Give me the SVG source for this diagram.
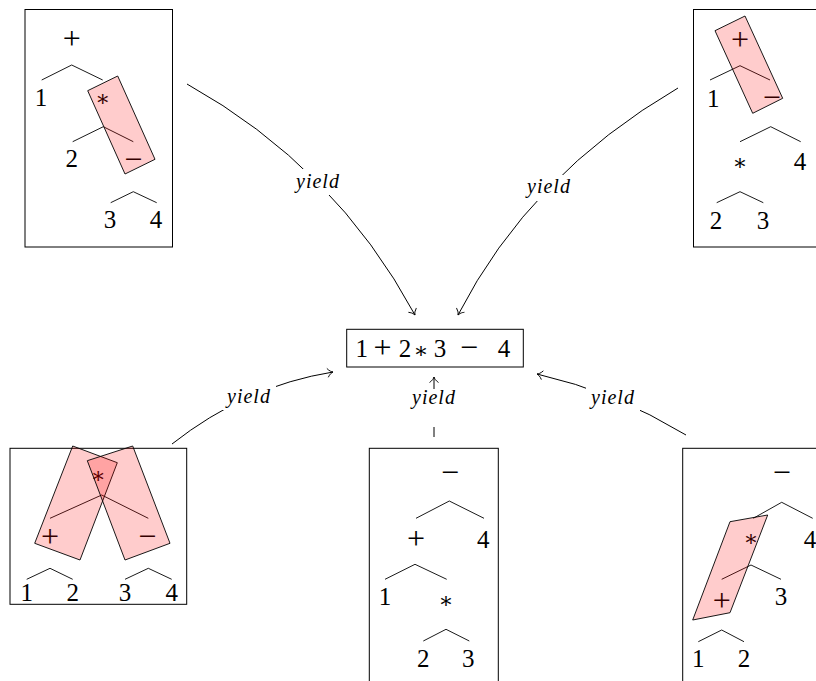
<svg xmlns="http://www.w3.org/2000/svg" width="816" height="681" viewBox="0 0 816 681">
<defs>
<style>
.box{fill:none;stroke:#000;stroke-width:1}
.t{font-family:"Liberation Serif","Times New Roman",serif;font-size:25px;text-anchor:middle;fill:#000}
.op{font-family:"Liberation Serif","Times New Roman",serif;font-size:32px;text-anchor:middle;fill:#000}
.ast{font-family:"DejaVu Serif","Liberation Serif",serif;font-size:22px;text-anchor:middle;fill:#000}
.e{fill:none;stroke:#000;stroke-width:0.9}
.hl{fill:#ff0000;fill-opacity:0.2;stroke:#000;stroke-width:0.9}
.lbl{font-family:"Liberation Serif","Times New Roman",serif;font-style:italic;font-size:20px;text-anchor:middle;fill:#000;letter-spacing:1px}
.bg{fill:#fff;stroke:none}
.c{fill:none;stroke:#000;stroke-width:1}
</style>
<marker id="arr" viewBox="-7 -6 8 12" refX="0" refY="0" markerWidth="8" markerHeight="12" markerUnits="userSpaceOnUse" orient="auto">
<path d="M-5.5,-4.5 C-3.5,-1.5 -1.2,-0.3 0,0 C-1.2,0.3 -3.5,1.5 -5.5,4.5" fill="none" stroke="#000" stroke-width="0.9"/>
</marker>
</defs>
<rect width="816" height="681" fill="#fff"/>

<g id="connectors">
<path class="c" d="M187,84 Q335,166.5 415,315" marker-end="url(#arr)"/>
<path class="c" d="M678,88 Q530,174.5 458,315" marker-end="url(#arr)"/>
<path class="c" d="M172,444 Q245.5,386 333,372" marker-end="url(#arr)"/>
<path class="c" d="M686,435 Q614.5,391.5 537,374" marker-end="url(#arr)"/>
<path class="c" d="M434,437 L434,377" marker-end="url(#arr)"/>
<rect class="bg" x="292" y="169" width="54" height="26"/>
<rect class="bg" x="522" y="175" width="54" height="26"/>
<rect class="bg" x="222" y="384" width="54" height="26"/>
<rect class="bg" x="586" y="385" width="54" height="26"/>
<rect class="bg" x="406" y="389" width="56" height="38"/>
<text class="lbl" x="318" y="188">yield</text>
<text class="lbl" x="549" y="193">yield</text>
<text class="lbl" x="249" y="403">yield</text>
<text class="lbl" x="613" y="404">yield</text>
<text class="lbl" x="434" y="404">yield</text>
</g>

<g id="center">
<rect class="box" x="346.7" y="329.3" width="176.6" height="37.7"/>
<text class="t" x="361.7" y="356.5">1</text>
<text class="op" x="382.5" y="357.5">+</text>
<text class="t" x="405" y="356.5">2</text>
<text class="ast" x="421" y="358">∗</text>
<text class="t" x="440" y="356.5">3</text>
<text class="op" x="469" y="357.5">−</text>
<text class="t" x="504" y="356.5">4</text>
</g>

<g id="tree-top-left">
<rect class="box" x="25" y="9.5" width="147.5" height="237.5"/>
<text class="op" x="71.7" y="48.5">+</text>
<path class="e" d="M41.7,80 L71.7,65 L102.7,80"/>
<text class="t" x="41" y="106">1</text>
<text class="ast" x="102.7" y="106">∗</text>
<path class="e" d="M72.7,141.7 L103.3,126.7 L133.3,141.7"/>
<text class="t" x="71.7" y="167.3">2</text>
<text class="op" x="133.3" y="170">−</text>
<path class="e" d="M110.7,202.7 L133.3,191.7 L156.7,202.7"/>
<text class="t" x="110" y="228.3">3</text>
<text class="t" x="156" y="228.3">4</text>
<polygon class="hl" points="87.7,90.7 117.7,76 155,159.3 125,174"/>
</g>

<g id="tree-top-right">
<rect class="box" x="693.5" y="9.5" width="200" height="237.5"/>
<text class="op" x="740" y="49.5">+</text>
<path class="e" d="M710,80 L740,65.7 L770,80"/>
<text class="t" x="713.3" y="106.5">1</text>
<text class="op" x="771.7" y="108">−</text>
<path class="e" d="M740,141.7 L770.7,126.7 L800.7,141.7"/>
<text class="ast" x="740" y="170">∗</text>
<text class="t" x="800" y="170">4</text>
<path class="e" d="M716.7,202.7 L740,191.7 L763.3,202.7"/>
<text class="t" x="716" y="228.5">2</text>
<text class="t" x="763" y="228.5">3</text>
<polygon class="hl" points="715,30.7 745,16 782.7,98.3 752.7,113.3"/>
</g>

<g id="tree-bottom-left">
<rect class="box" x="10" y="448.3" width="176.7" height="156"/>
<text class="ast" x="98.3" y="483">∗</text>
<path class="e" d="M50,518.3 L101.7,495 L148.3,518.3"/>
<text class="op" x="50" y="546.5">+</text>
<text class="op" x="147.3" y="546.5">−</text>
<path class="e" d="M26.7,579.3 L50,568.3 L72.7,579.3"/>
<path class="e" d="M125,579.3 L148.3,568.3 L171.7,579.3"/>
<text class="t" x="26.7" y="600.5">1</text>
<text class="t" x="72.7" y="600.5">2</text>
<text class="t" x="125" y="600.5">3</text>
<text class="t" x="171.7" y="600.5">4</text>
<polygon class="hl" points="72.7,446 117.3,462.7 80,560 34.7,543.3"/>
<polygon class="hl" points="132.7,446 87.3,460.7 125,560 170,543.3"/>
</g>

<g id="tree-bottom-middle">
<rect class="box" x="369.3" y="448.3" width="129" height="250"/>
<text class="op" x="450" y="483">−</text>
<path class="e" d="M416,518.3 L449.3,501 L484,518.3"/>
<text class="op" x="416" y="549">+</text>
<text class="t" x="483.3" y="547.8">4</text>
<path class="e" d="M385,579.3 L415,564.3 L446.7,579.3"/>
<text class="t" x="385" y="605">1</text>
<text class="ast" x="446" y="608">∗</text>
<path class="e" d="M423.3,641 L446,629.3 L469.3,641"/>
<text class="t" x="423.3" y="666.5">2</text>
<text class="t" x="468.3" y="666.5">3</text>
</g>

<g id="tree-bottom-right">
<rect class="box" x="682.7" y="448.3" width="200" height="250"/>
<text class="op" x="781.7" y="483">−</text>
<path class="e" d="M753.3,518.3 L781.7,502.3 L812.7,518.3"/>
<text class="ast" x="751" y="546">∗</text>
<text class="t" x="810" y="547.5">4</text>
<path class="e" d="M721.7,579.3 L751,565 L781,579.3"/>
<text class="op" x="721.7" y="610.5">+</text>
<text class="t" x="781" y="604.5">3</text>
<path class="e" d="M698.3,641.7 L721.7,630 L744,641.7"/>
<text class="t" x="698.3" y="666.5">1</text>
<text class="t" x="744" y="666.5">2</text>
<polygon class="hl" points="730,521.7 767.7,515 730,612.7 692.7,620"/>
</g>
</svg>
